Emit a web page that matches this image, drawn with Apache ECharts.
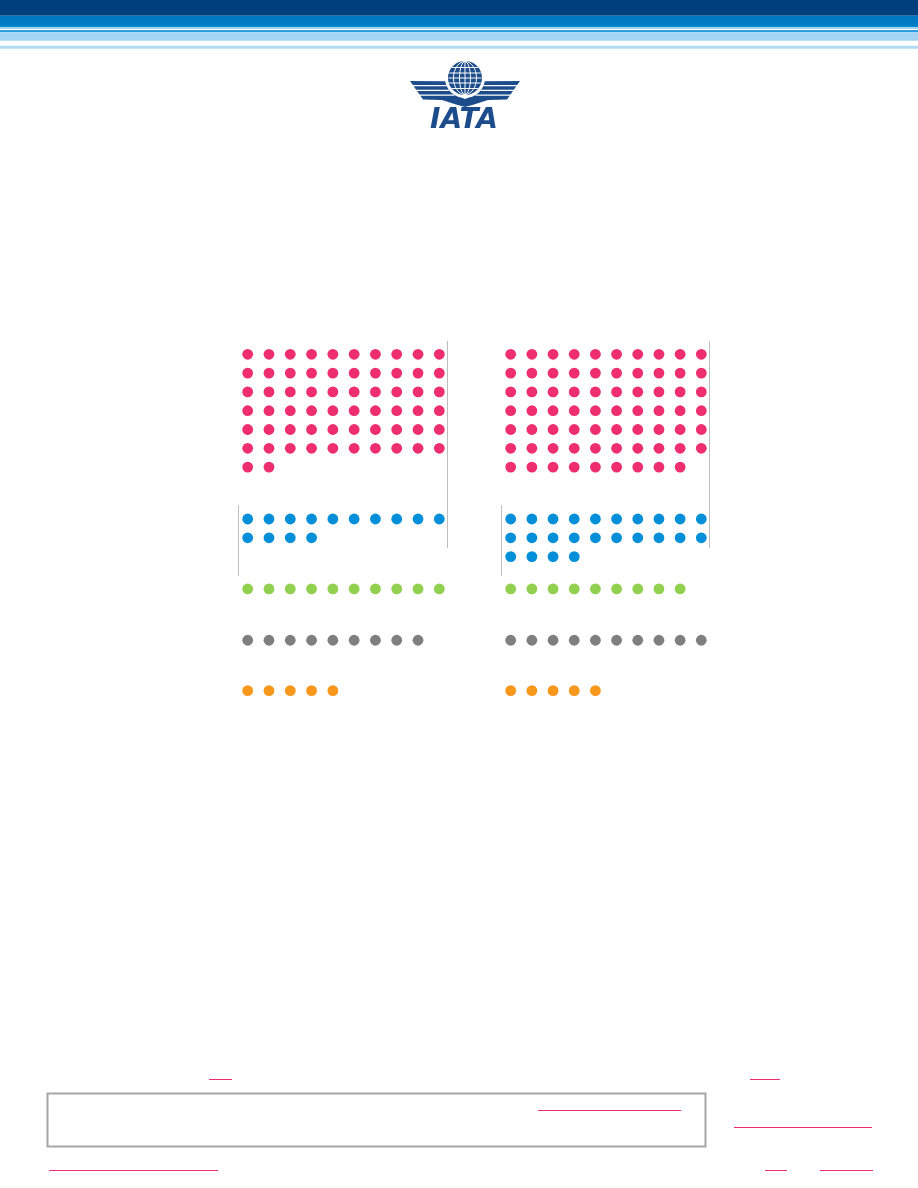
<!DOCTYPE html>
<html>
<head>
<meta charset="utf-8">
<script src="https://cdn.jsdelivr.net/npm/echarts@6/dist/echarts.min.js"></script>
<style>
html,body{margin:0;padding:0;background:#fff;}
#chart{width:918px;height:1188px;}
</style>
</head>
<body>
<div id="chart"></div>
<script>
// ---- data ----
const categories = ['Pink', 'Blue', 'Green', 'Grey', 'Orange'];
const leftCounts = [62, 14, 10, 9, 5];
const rightCounts = [69, 24, 9, 10, 5];
const colors = ['#ee2e6e', '#008fd8', '#92d050', '#7f7f7f', '#f7981d'];

// ---- layout (row slots for each category, in dot-row units) ----
const perRow = 10;
const startRow = [0, 8.76, 12.48, 15.21, 17.89];

function buildDots(counts) {
  return categories.map((c, k) => {
    const pts = [];
    for (let i = 0; i < counts[k]; i++) {
      pts.push([i % perRow, startRow[k] + Math.floor(i / perRow)]);
    }
    return pts;
  });
}
const leftDots = buildDots(leftCounts);
const rightDots = buildDots(rightCounts);

const chart = echarts.init(document.getElementById('chart'), null, {renderer: 'canvas'});

const grids = [
  {left: 237.05, top: 335.5, width: 212.9, height: 394.8},
  {left: 500.1, top: 335.5, width: 211.8, height: 394.8}
];
const xAxes = grids.map((g, i) => ({
  type: 'value', gridIndex: i, min: -0.5, max: 9.5, show: false
}));
const yAxes = grids.map((g, i) => ({
  type: 'value', gridIndex: i, min: -1, max: 20, inverse: true, show: false
}));

const series = [];
[leftDots, rightDots].forEach((dots, p) => {
  dots.forEach((pts, k) => {
    series.push({
      type: 'scatter', name: categories[k], xAxisIndex: p, yAxisIndex: p,
      data: pts, symbol: 'circle', symbolSize: 10.8, silent: true,
      itemStyle: {color: colors[k], opacity: 1}, animation: false
    });
  });
});

// header bands
const bands = [
  [0, 15.7, '#003f7e'],
  [15.7, 11.6, {type:'linear',x:0,y:0,x2:0,y2:1,colorStops:[{offset:0,color:'#0076bf'},{offset:0.75,color:'#007cc4'},{offset:1,color:'#0a8fd2'}]}],
  [27.3, 1.7, '#9ed0ee'],
  [29, 1, '#ffffff'],
  [30, 2.3, '#2e9ddc'],
  [32.3, 8.4, '#a4d4f3'],
  [45.7, 3, '#b2daf2']
];
const graphics = bands.map(b => ({
  type: 'rect', shape: {x: 0, y: b[0], width: 918, height: b[1]},
  style: {fill: b[2]}, silent: true
}));

// logo
const navy = '#1d4c8c';
const cx = 465, cy = 78, r = 17;
const R = 20;
function wing(sign) {
  const m = (x) => cx + sign * (x - cx);
  const pts = [[410, 81]];
  for (let a = 171; a >= 95; a -= 6) {
    const t = a * Math.PI / 180;
    pts.push([cx + R * Math.cos(t), cy + R * Math.sin(t)]);
  }
  pts.push([cx, 99], [cx, 107], [456, 104.5], [442, 100], [423, 99.5]);
  return {
    type: 'polygon', shape: {points: pts.map(p => [m(p[0]), p[1]])},
    style: {fill: navy}, silent: true
  };
}
graphics.push(wing(1), wing(-1));
// white gaps in wings
[85.6, 90.4, 95.1].forEach((y) => {
  const hw = Math.sqrt(R * R - (y - cy) * (y - cy));
  [1, -1].forEach(s => {
    graphics.push({type: 'line', shape: {x1: cx + s * (400 - cx), y1: y, x2: cx - s * hw, y2: y},
      style: {stroke: '#ffffff', lineWidth: 1.4}, silent: true});
  });
});
// globe
graphics.push({type: 'circle', shape: {cx: cx, cy: cy, r: r + 2}, style: {fill: '#ffffff'}, silent: true});
graphics.push({type: 'circle', shape: {cx: cx, cy: cy, r: r}, style: {fill: navy}, silent: true});
[5.5, 11.5].forEach(rx => {
  graphics.push({type: 'ellipse', shape: {cx: cx, cy: cy, rx: rx, ry: r - 0.5},
    style: {fill: null, stroke: '#ffffff', lineWidth: 1}, silent: true});
});
graphics.push({type: 'line', shape: {x1: cx, y1: cy - r, x2: cx, y2: cy + r}, style: {stroke: '#fff', lineWidth: 1}, silent: true});
[-10.5, -5, 0, 5, 10.5].forEach(dy => {
  const hw = Math.sqrt(Math.max(0, r * r - dy * dy)) - 0.5;
  graphics.push({type: 'line', shape: {x1: cx - hw, y1: cy + dy, x2: cx + hw, y2: cy + dy},
    style: {stroke: '#fff', lineWidth: 1}, silent: true});
});
graphics.push({type: 'text', style: {text: 'IATA', x: 464, y: 121, align: 'center', verticalAlign: 'middle',
  fill: navy, font: 'italic bold 28px "DejaVu Sans", sans-serif'}, silent: true});

// panel divider lines
const vlines = [[447.5, 341, 548], [238.5, 505, 576], [709.5, 341, 548], [501.5, 505, 576]];
vlines.forEach(v => graphics.push({type: 'line', shape: {x1: v[0], y1: v[1], x2: v[0], y2: v[2]},
  style: {stroke: '#bdbdbd', lineWidth: 1}, silent: true}));

// footer box and link underlines
graphics.push({type: 'rect', shape: {x: 47.5, y: 1093.5, width: 658, height: 53},
  style: {fill: null, stroke: '#a6a6a6', lineWidth: 2}, silent: true});
const underlines = [[209, 232, 1079.5], [750, 780, 1079.5], [538, 681, 1110.5], [734, 872, 1127.5],
  [49, 218, 1170.5], [765, 787, 1170.5], [820, 873, 1170.5]];
underlines.forEach(u => graphics.push({type: 'line', shape: {x1: u[0], y1: u[2], x2: u[1], y2: u[2]},
  style: {stroke: '#ee2e6e', lineWidth: 1}, silent: true}));

chart.setOption({
  animation: false,
  backgroundColor: '#ffffff',
  grid: grids,
  xAxis: xAxes,
  yAxis: yAxes,
  series: series,
  graphic: graphics
});
</script>
</body>
</html>
